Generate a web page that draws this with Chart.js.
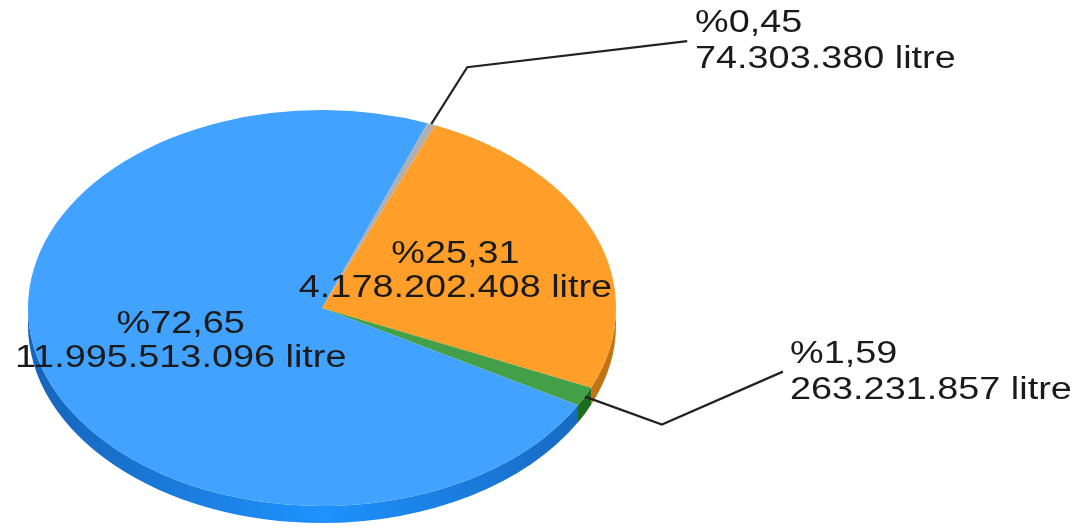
<!DOCTYPE html>
<html>
<head>
<meta charset="utf-8">
<script src="https://cdn.jsdelivr.net/npm/chart.js@4.4.1/dist/chart.umd.min.js"></script>
<style>
  html, body { margin: 0; padding: 0; background: #fff; }
  #wrap { width: 1079px; height: 531px; }
</style>
</head>
<body>
<div id="wrap"><canvas id="pie" width="1079" height="531"></canvas></div>
<script>
// data
const categories = ['Diğer', 'Turuncu', 'Yeşil', 'Mavi'];
const litres = [74303380, 4178202408, 263231857, 11995513096];
const topColors = ['#b0b0b0', '#ff9f2a', '#44a048', '#42a2ff'];
const sideColors = ['#808080', '#c27414', '#1c6c1e', null]; // blue side uses a gradient

const stretchX = 294 / 198;   // pie is drawn as a circle and widened into an ellipse
const depth = 17;             // thickness of the 3d rim
const textStretch = 1.22;

const total = litres.reduce((a, b) => a + b, 0);

function fmtLitre(v) {
    return String(v).replace(/\B(?=(\d{3})+(?!\d))/g, '.') + ' litre';
}
function fmtPct(v) {
    return '%' + (v / total * 100).toFixed(2).replace('.', ',');
}

// where the labels go: inside the slice or out on a leader line
const callouts = [
    { i: 0, elbow: [36, -57], end: [256, -83], text: [695, 32] },
    { i: 2, elbow: [77, 28], end: [198, -25], text: [790, 363] }
];
const insideLabels = [1, 3];

const pie3d = {
    id: 'pie3d',
    beforeDatasetsDraw(chart) {
        const ctx = chart.ctx;
        const meta = chart.getDatasetMeta(0);
        const first = meta.data[0];
        const cx = first.x, cy = first.y, r = first.outerRadius;
        ctx.save();
        ctx.translate(cx, cy);
        ctx.scale(stretchX, 1);
        ctx.translate(-cx, -cy);

        // rim (only the front half shows)
        meta.data.forEach((arc, i) => {
            const s = arc.startAngle, e = arc.endAngle;
            [[0, Math.PI], [2 * Math.PI, 3 * Math.PI]].forEach(([lo, hi]) => {
                const from = Math.max(s, lo), to = Math.min(e, hi);
                if (to <= from) return;
                ctx.beginPath();
                ctx.arc(cx, cy, r, from, to);
                ctx.arc(cx, cy + depth, r, to, from, true);
                ctx.closePath();
                if (sideColors[i]) {
                    ctx.fillStyle = sideColors[i];
                } else {
                    const g = ctx.createLinearGradient(cx - r, 0, cx + r, 0);
                    g.addColorStop(0, '#1664b8');
                    g.addColorStop(0.5, '#1e92ff');
                    g.addColorStop(1, '#1664b8');
                    ctx.fillStyle = g;
                }
                ctx.fill();
            });
        });
    },
    afterDatasetsDraw(chart) {
        chart.ctx.restore();
    },
    afterDraw(chart) {
        const ctx = chart.ctx;
        const meta = chart.getDatasetMeta(0);

        function line(txt, x, y, align) {
            ctx.save();
            ctx.translate(x, y);
            ctx.scale(textStretch, 1);
            ctx.textAlign = align;
            ctx.fillText(txt, 0, 0);
            ctx.restore();
        }

        ctx.save();
        ctx.font = '31px "Liberation Sans", Arial, sans-serif';
        ctx.fillStyle = '#1a1a1a';
        ctx.textBaseline = 'alphabetic';

        insideLabels.forEach(i => {
            const arc = meta.data[i];
            const mid = (arc.startAngle + arc.endAngle) / 2;
            const px = arc.x + Math.cos(mid) * arc.outerRadius * 0.5 * stretchX - 3;
            const py = arc.y + Math.sin(mid) * arc.outerRadius * 0.5;
            line(fmtPct(litres[i]), px, py - 8, 'center');
            line(fmtLitre(litres[i]), px, py + 26, 'center');
        });

        ctx.strokeStyle = '#222';
        ctx.lineWidth = 2.2;
        callouts.forEach(c => {
            const arc = meta.data[c.i];
            const mid = (arc.startAngle + arc.endAngle) / 2;
            const sx = arc.x + Math.cos(mid) * arc.outerRadius * stretchX;
            const sy = arc.y + Math.sin(mid) * arc.outerRadius;
            ctx.beginPath();
            ctx.moveTo(sx, sy);
            ctx.lineTo(sx + c.elbow[0], sy + c.elbow[1]);
            ctx.lineTo(sx + c.end[0], sy + c.end[1]);
            ctx.stroke();
            line(fmtPct(litres[c.i]), c.text[0], c.text[1], 'left');
            line(fmtLitre(litres[c.i]), c.text[0], c.text[1] + 36, 'left');
        });
        ctx.restore();
    }
};

new Chart(document.getElementById('pie'), {
    type: 'pie',
    data: {
        labels: categories,
        datasets: [{
            data: litres,
            backgroundColor: topColors,
            borderWidth: 0,
            clip: false
        }]
    },
    options: {
        responsive: false,
        animation: false,
        rotation: 21,
        layout: { padding: { left: 124, right: 559, top: 110, bottom: 25 } },
        plugins: {
            legend: { display: false },
            tooltip: { enabled: false }
        }
    },
    plugins: [pie3d]
});
</script>
</body>
</html>
